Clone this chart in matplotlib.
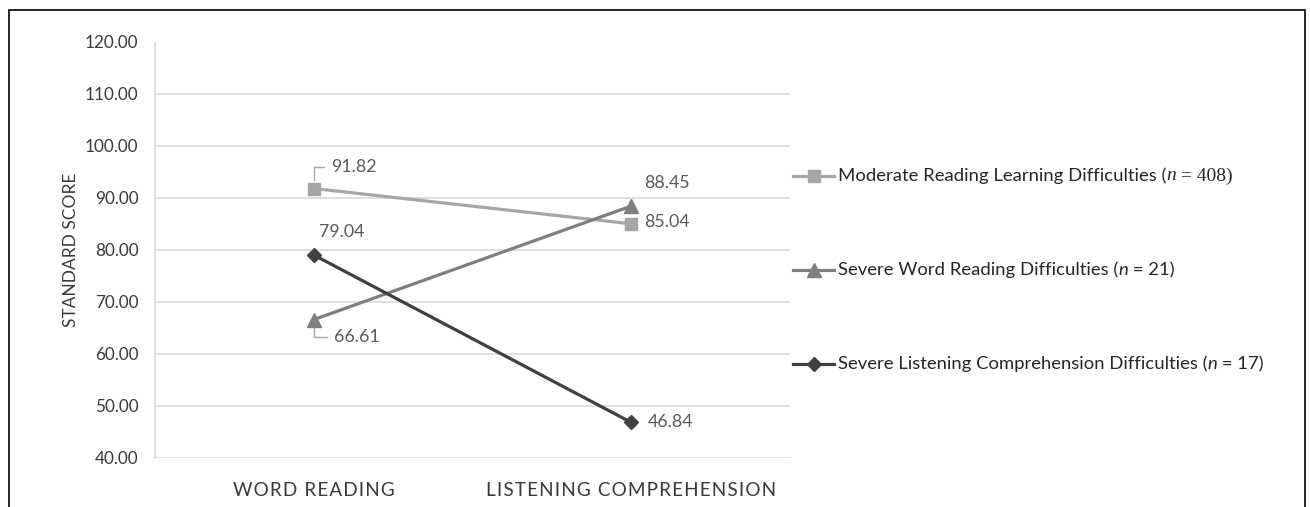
import matplotlib
matplotlib.use("Agg")
import matplotlib.pyplot as plt
from matplotlib.lines import Line2D
from matplotlib.patches import Rectangle

categories = ["WORD READING", "LISTENING COMPREHENSION"]
series_names = ["Moderate Reading Learning Difficulties",
                "Severe Word Reading Difficulties",
                "Severe Listening Comprehension Difficulties"]
series_n = [408, 21, 17]
moderate = [91.82, 85.04]
severe_word = [66.61, 88.45]
severe_listening = [79.04, 46.84]
yticks = [40, 50, 60, 70, 80, 90, 100, 110, 120]

FONT = ["Lato", "DejaVu Sans"]
plt.rcParams['font.family'] = FONT

fig = plt.figure(figsize=(13.1, 5.07), dpi=100)
W, H = 1310, 507
ax = fig.add_axes([155 / W, 1 - 458 / H, (790 - 155) / W, (458 - 42) / H])

colors = ["#a6a6a6", "#7f7f7f", "#404040"]
markers = ["s", "^", "D"]
msizes = [9, 10, 7]
data = [moderate, severe_word, severe_listening]
x = [0, 1]
for vals, c, m, ms in zip(data, colors, markers, msizes):
    ax.plot(x, vals, color=c, lw=2.3, marker=m, ms=ms, mfc=c, mec=c, zorder=3)

def spaced(s, sp="\u200a"):
    return sp.join(list(s))

ax.set_xlim(-0.5, 1.5)
ax.set_ylim(40, 120)
ax.set_yticks(yticks)
ax.set_yticklabels([f"{v:.2f}" for v in yticks], fontsize=12.3, color="#3a3a3a")
ax.set_xticks(x)
ax.set_xticklabels([spaced(c) for c in categories], fontsize=13.6, color="#3a3a3a")
ax.tick_params(axis='x', length=0, pad=17)
ax.tick_params(axis='y', length=0, pad=12)
for s in ["top", "right", "bottom"]:
    ax.spines[s].set_visible(False)
ax.spines["left"].set_color("#d9d9d9")
ax.spines["left"].set_linewidth(1.2)
for v in yticks[:-1]:
    ax.axhline(v, color="#d9d9d9", lw=1.2, zorder=1)
ax.set_ylabel("STANDARD SCORE", fontsize=12.5, color="#3a3a3a", labelpad=4)

lab_col = "#595959"
fs = 12.8
def pts(px):
    return px * 72 / 100

ax.annotate(f"{moderate[0]:.2f}", (x[0], moderate[0]), xytext=(pts(17), pts(22)),
            textcoords="offset points", fontsize=fs, color=lab_col, va="center", ha="left",
            arrowprops=dict(arrowstyle="-", color="#a6a6a6", lw=1,
                            connectionstyle="angle,angleA=0,angleB=90,rad=0",
                            shrinkA=3, shrinkB=6))
ax.annotate(f"{moderate[1]:.2f}", (x[1], moderate[1]), xytext=(pts(13), pts(2)),
            textcoords="offset points", fontsize=fs, color=lab_col, va="center", ha="left")
ax.annotate(f"{severe_word[0]:.2f}", (x[0], severe_word[0]), xytext=(pts(20), pts(-17)),
            textcoords="offset points", fontsize=fs, color=lab_col, va="center", ha="left",
            arrowprops=dict(arrowstyle="-", color="#a6a6a6", lw=1,
                            connectionstyle="angle,angleA=0,angleB=90,rad=0",
                            shrinkA=3, shrinkB=6))
ax.annotate(f"{severe_word[1]:.2f}", (x[1], severe_word[1]), xytext=(pts(13), pts(23)),
            textcoords="offset points", fontsize=fs, color=lab_col, va="center", ha="left")
ax.annotate(f"{severe_listening[0]:.2f}", (x[0], severe_listening[0]), xytext=(pts(28), pts(23)),
            textcoords="offset points", fontsize=fs, color=lab_col, va="center", ha="center")
ax.annotate(f"{severe_listening[1]:.2f}", (x[1], severe_listening[1]), xytext=(pts(17), pts(0)),
            textcoords="offset points", fontsize=fs, color=lab_col, va="center", ha="left")

leg_y = [176, 270, 364]
lfs = 13.3
for name, n, c, m, ms, yy in zip(series_names, series_n, colors, markers, msizes, leg_y):
    fy = 1 - yy / H
    fig.add_artist(Line2D([793 / W, 834 / W], [fy, fy], color=c, lw=2.3))
    fig.add_artist(Line2D([813.5 / W], [fy], color=c, marker=m, ms=ms, mfc=c, mec=c))
    t = fig.text(838 / W, fy, name + " (", fontsize=lfs, color="#262626", va="center", ha="left")
    fig.canvas.draw()
    bb = t.get_window_extent()
    if n == 408:
        t2 = fig.text(bb.x1 / W, fy, "n", fontsize=lfs + 0.7, color="#262626", va="center", ha="left",
                      family="Liberation Serif", style="italic")
        fig.canvas.draw()
        bb2 = t2.get_window_extent()
        fig.text(bb2.x1 / W, fy, f" = {n})", fontsize=lfs + 0.7, color="#262626", va="center", ha="left",
                 family="Liberation Serif")
    else:
        t2 = fig.text(bb.x1 / W, fy, "n", fontsize=lfs, color="#262626", va="center", ha="left",
                      style="italic")
        fig.canvas.draw()
        bb2 = t2.get_window_extent()
        fig.text(bb2.x1 / W, fy, f" = {n})", fontsize=lfs, color="#262626", va="center", ha="left")

fig.add_artist(Rectangle((9 / W, -0.1), (1305 - 9) / W, 1 - 10 / H + 0.1, transform=fig.transFigure,
                         fill=False, ec="black", lw=1.2))

fig.savefig("out.png", dpi=100)
